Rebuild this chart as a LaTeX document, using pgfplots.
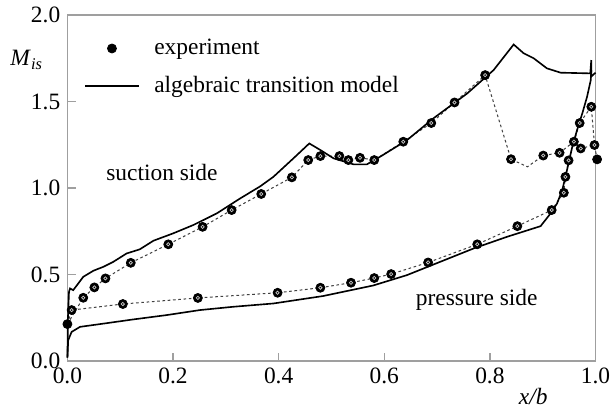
\documentclass[border=0pt]{standalone}
\usepackage{fontspec}
\setmainfont{Liberation Serif}
\usepackage{pgfplots}
\pgfplotsset{compat=1.18}
\pgfplotsset{
    legmark/.style={legend image code/.code={
        \draw[mark repeat=1,mark phase=1,##1] plot coordinates {(0.46cm,0cm)};
        \path[draw=none] (0cm,0cm) -- (1.12cm,0cm);}},
    legline/.style={legend image code/.code={
        \draw[##1] (0cm,0cm) -- (0.92cm,0cm);
        \path[draw=none] (0cm,0cm) -- (1.12cm,0cm);}},
}

\begin{document}
\begin{tikzpicture}[font=\fontsize{11.5pt}{13pt}\selectfont]
\begin{axis}[
    scale only axis,
    width=259.3pt, height=169.9pt,
    xmin=0, xmax=1, ymin=0, ymax=2,
    xtick={0,0.2,0.4,0.6,0.8,1.0},
    ytick={0,0.5,1.0,1.5,2.0},
    /pgf/number format/.cd, fixed, fixed zerofill, precision=1, assume math mode=true,
    /pgfplots/.cd,
    tick align=inside,
    xtick pos=left, ytick pos=left,
    major tick length=4pt,
    axis line style={gray!75, line width=0.7pt},
    tick style={gray!75, line width=0.7pt},
    clip=false,
    legend style={at={(rel axis cs:0.02,0.955)}, anchor=north west,
        draw=none, fill=none, row sep=5pt, font=\fontsize{11.5pt}{13pt}\selectfont},
    legend cell align=left,
]
% dotted guide lines through the measured points
\addplot[forget plot, black!75, line width=0.5pt, dash pattern=on 1.3pt off 1.3pt] coordinates {
 (0,0.214) (0.030,0.366) (0.051,0.426) (0.072,0.478) (0.120,0.568) (0.191,0.675)
 (0.256,0.776) (0.311,0.873) (0.367,0.966) (0.425,1.062) (0.456,1.162) (0.479,1.185)
 (0.515,1.185) (0.532,1.162) (0.554,1.175) (0.581,1.162) (0.636,1.268) (0.689,1.376)
 (0.733,1.495) (0.791,1.653) (0.840,1.167) (0.871,1.123) (0.901,1.188) (0.932,1.204)
 (0.959,1.268) (0.972,1.229) (0.998,1.249)
};
\addplot[forget plot, black!75, line width=0.5pt, dash pattern=on 1.3pt off 1.3pt] coordinates {
 (0,0.214) (0.008,0.295) (0.105,0.330) (0.247,0.365) (0.398,0.395) (0.479,0.424)
 (0.537,0.453) (0.581,0.480) (0.613,0.503) (0.683,0.570) (0.776,0.675) (0.852,0.780)
 (0.917,0.873) (0.940,0.973) (0.943,1.065) (0.949,1.160) (0.970,1.376) (0.992,1.470)
 (0.998,1.249) (1.003,1.166)
};
% experiment, suction side
\addplot[only marks, mark=*, mark size=2.2pt, mark options={fill=black, draw=black}, legmark] coordinates {
 (0,0.214) (0.030,0.366) (0.051,0.426) (0.072,0.478) (0.120,0.568) (0.191,0.675)
 (0.256,0.776) (0.311,0.873) (0.367,0.966) (0.425,1.062) (0.456,1.162) (0.479,1.185)
 (0.515,1.185) (0.532,1.162) (0.554,1.175) (0.581,1.162) (0.636,1.268) (0.689,1.376)
 (0.733,1.495) (0.791,1.653) (0.840,1.167) (0.901,1.188) (0.932,1.204)
 (0.959,1.268) (0.972,1.229) (0.998,1.249)
};
\addlegendentry{experiment}
% experiment, pressure side
\addplot[forget plot, only marks, mark=*, mark size=2.2pt, mark options={fill=black, draw=black}] coordinates {
 (0.008,0.295) (0.105,0.330) (0.247,0.365) (0.398,0.395) (0.479,0.424)
 (0.537,0.453) (0.581,0.480) (0.613,0.503) (0.683,0.570) (0.776,0.675) (0.852,0.780)
 (0.917,0.873) (0.940,0.973) (0.943,1.065) (0.949,1.160) (0.970,1.376) (0.992,1.470)
 (1.003,1.166)
};
% grey centres of the measured points
\addplot[forget plot, only marks, mark=o, mark size=0.8pt, mark options={draw=gray!45, line width=0.35pt}] coordinates {
 (0.030,0.366) (0.051,0.426) (0.072,0.478) (0.120,0.568) (0.191,0.675)
 (0.256,0.776) (0.311,0.873) (0.367,0.966) (0.425,1.062) (0.456,1.162) (0.479,1.185)
 (0.515,1.185) (0.532,1.162) (0.554,1.175) (0.581,1.162) (0.636,1.268) (0.689,1.376)
 (0.733,1.495) (0.791,1.653) (0.840,1.167) (0.901,1.188) (0.932,1.204)
 (0.959,1.268) (0.972,1.229) (0.998,1.249)
 (0.008,0.295) (0.105,0.330) (0.247,0.365) (0.398,0.395) (0.479,0.424)
 (0.537,0.453) (0.581,0.480) (0.613,0.503) (0.683,0.570) (0.776,0.675) (0.852,0.780)
 (0.917,0.873) (0.940,0.973) (0.943,1.065) (0.949,1.160) (0.970,1.376) (0.992,1.470)
};
% algebraic transition model, suction side (with trailing edge)
\addplot[black, line width=0.8pt, legline] coordinates {
 (0,0.02) (0.001,0.25) (0.003,0.40) (0.005,0.42) (0.011,0.41) (0.030,0.487)
 (0.049,0.522) (0.068,0.545) (0.087,0.574) (0.112,0.622) (0.137,0.646) (0.163,0.696)
 (0.200,0.738) (0.238,0.786) (0.283,0.854) (0.327,0.940) (0.365,1.010) (0.390,1.065)
 (0.428,1.172) (0.458,1.258) (0.479,1.220) (0.504,1.172) (0.542,1.137) (0.567,1.137)
 (0.592,1.181) (0.643,1.277) (0.693,1.403) (0.757,1.547) (0.807,1.682) (0.845,1.830)
 (0.864,1.779) (0.883,1.750) (0.908,1.692) (0.934,1.667) (0.990,1.663) (0.992,1.740)
 (0.992,1.645) (1.000,1.667)
};
\addlegendentry{algebraic transition model}
% algebraic transition model, pressure side
\addplot[forget plot, black, line width=0.8pt] coordinates {
 (0,0.02) (0.0015,0.121) (0.008,0.169) (0.024,0.198) (0.062,0.214) (0.125,0.241)
 (0.188,0.266) (0.251,0.295) (0.314,0.314) (0.390,0.333) (0.484,0.376) (0.579,0.437)
 (0.643,0.497) (0.706,0.574) (0.769,0.651) (0.833,0.719) (0.896,0.780) (0.915,0.854)
 (0.927,0.910) (0.937,0.988) (0.946,1.104) (0.956,1.239) (0.965,1.335) (0.975,1.432)
 (0.984,1.528) (0.991,1.624) (0.992,1.682)
};
\node at (axis cs:0.179,1.09) {suction side};
\node at (axis cs:0.775,0.355) {pressure side};
\node at (axis cs:-0.077,1.74) {\textit{M}\textsubscript{\textit{is}}};
\node at (axis cs:0.882,-0.205) {\textit{x/b}};
\coordinate (ll) at (rel axis cs:0,0);
\coordinate (ur) at (rel axis cs:1,1);
\end{axis}
\pgfresetboundingbox
\path[use as bounding box] ([shift={(-33.1pt,-23.5pt)}]ll) rectangle ([shift={(7.6pt,7.4pt)}]ur);
\end{tikzpicture}
\end{document}
